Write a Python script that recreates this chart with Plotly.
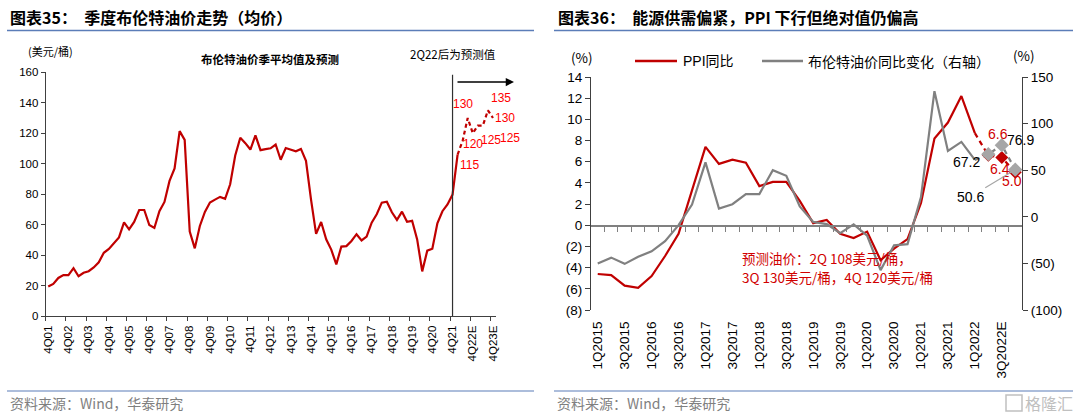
import plotly.graph_objects as go

W, H = 1080, 416
def px(x): return x / W
def py(y): return 1 - y / H

FONT = "Liberation Sans, Arial, Noto Sans CJK SC, sans-serif"
CJK = "Noto Sans CJK SC, Liberation Sans, sans-serif"

# ---------------- Left chart data ----------------
left_tick_labels = ["4Q01", "4Q02", "4Q03", "4Q04", "4Q05", "4Q06", "4Q07", "4Q08",
                    "4Q09", "4Q10", "4Q11", "4Q12", "4Q13", "4Q14", "4Q15", "4Q16",
                    "4Q17", "4Q18", "4Q19", "4Q20", "4Q21", "4Q22E", "4Q23E"]
# quarterly average Brent, 4Q01 .. 1Q22
brent_actual = [19.4,
                21.1, 25.0, 26.9, 26.8,
                31.4, 26.1, 28.4, 29.4,
                31.9, 35.3, 41.5, 44.0,
                47.6, 51.6, 61.5, 56.9,
                61.8, 69.6, 69.6, 59.7,
                57.8, 68.8, 74.9, 88.7,
                96.9, 121.4, 115.6, 55.5,
                44.4, 59.1, 68.3, 74.5,
                76.4, 78.2, 76.9, 86.5,
                105.4, 117.0, 113.5, 109.3,
                118.6, 108.9, 109.6, 110.1,
                112.6, 102.6, 110.3, 109.2,
                108.2, 109.7, 101.9, 76.4,
                53.9, 61.7, 50.4, 43.6,
                33.9, 45.6, 45.9, 49.3,
                53.7, 49.6, 52.1, 61.3,
                66.8, 74.4, 75.0, 68.1,
                63.1, 68.5, 61.9, 62.5,
                50.3, 29.3, 42.9, 44.2,
                60.9, 68.8, 73.2, 79.7,
                106.0]
# forecasts 2Q22 .. 4Q23
brent_forecast = [115, 130, 120, 125, 125, 135, 130]
forecast_labels = ["115", "130", "120", "125", "125", "135", "130"]
forecast_label_shift = [(7, -24), (-5, 14), (0, -11), (13, -14), (27, -12), (13, 12), (12, 0)]
split_label = "4Q21"

# ---------------- Right chart data ----------------
right_tick_labels = ["1Q2015", "3Q2015", "1Q2016", "3Q2016", "1Q2017", "3Q2017", "1Q2018",
                     "3Q2018", "1Q2019", "3Q2019", "1Q2020", "3Q2020", "1Q2021", "3Q2021",
                     "1Q2022", "3Q2022E"]
ppi_yoy = [-4.6, -4.7, -5.7, -5.9, -4.8, -2.9, -0.8, 3.3, 7.4, 5.8, 6.2, 5.9, 3.7, 4.1,
           4.1, 2.3, 0.2, 0.5, -0.8, -1.2, -0.6, -3.3, -2.2, -1.3, 2.1, 8.2, 9.7, 12.2, 8.7]
brent_yoy = [-50.2, -43.8, -50.5, -42.9, -37.1, -26.1, -8.9, 13.1, 58.4, 8.8, 13.5, 24.3,
             24.4, 50.0, 44.0, 11.1, -5.5, -7.9, -17.5, -8.2, -20.3, -57.2, -30.7, -29.3,
             21.1, 134.8, 70.6, 80.3, 61.0]
ppi_fc = [6.6, 6.4, 5.0]
brent_fc = [67.2, 76.9, 50.6]
ppi_fc_labels = ["6.6", "6.4", "5.0"]
brent_fc_labels = ["67.2", "76.9", "50.6"]
left_y_ticks = [-8, -6, -4, -2, 0, 2, 4, 6, 8, 10, 12, 14]
right_y_ticks = [-100, -50, 0, 50, 100, 150]
note_lines = ["预测油价：2Q 108美元/桶，", "3Q 130美元/桶，4Q 120美元/桶"]

RED = "#C00000"
GRAY = "#808080"
AX = "#404040"

fig = go.Figure()

# ---- left traces
xa = list(range(len(brent_actual)))
xf = list(range(len(brent_actual) - 1, len(brent_actual) + len(brent_forecast)))
yf = [brent_actual[-1]] + brent_forecast
fig.add_trace(go.Scatter(x=xa, y=brent_actual, mode="lines", line=dict(color=RED, width=2.2),
                         xaxis="x", yaxis="y", showlegend=False, hoverinfo="skip"))
fig.add_trace(go.Scatter(x=xf, y=yf, mode="lines", line=dict(color=RED, width=2.2, dash="4px,3px"),
                         xaxis="x", yaxis="y", showlegend=False, hoverinfo="skip"))
fig.add_trace(go.Scatter(x=[0], y=[0], mode="markers", marker=dict(opacity=0),
                         xaxis="x2", yaxis="y", showlegend=False, hoverinfo="skip"))

# ---- right traces
n = len(ppi_yoy)
xr = list(range(n))
xfc = list(range(n - 1, n + len(ppi_fc)))
fig.add_trace(go.Scatter(x=xr, y=ppi_yoy, mode="lines", line=dict(color=RED, width=2.2),
                         xaxis="x3", yaxis="y3", showlegend=False, hoverinfo="skip"))
fig.add_trace(go.Scatter(x=xfc, y=[ppi_yoy[-1]] + ppi_fc, mode="lines",
                         line=dict(color=RED, width=2.2, dash="5px,4px"),
                         xaxis="x3", yaxis="y3", showlegend=False, hoverinfo="skip"))
fig.add_trace(go.Scatter(x=xfc[1:], y=ppi_fc, mode="markers",
                         marker=dict(symbol="diamond", size=10, color=RED),
                         xaxis="x3", yaxis="y3", showlegend=False, hoverinfo="skip"))
fig.add_trace(go.Scatter(x=xr, y=brent_yoy, mode="lines", line=dict(color=GRAY, width=2.2),
                         xaxis="x3", yaxis="y4", showlegend=False, hoverinfo="skip"))
fig.add_trace(go.Scatter(x=xfc, y=[brent_yoy[-1]] + brent_fc, mode="lines",
                         line=dict(color=GRAY, width=2.2, dash="5px,4px"),
                         xaxis="x3", yaxis="y4", showlegend=False, hoverinfo="skip"))
fig.add_trace(go.Scatter(x=xfc[1:], y=brent_fc, mode="markers",
                         marker=dict(symbol="diamond", size=11, color="#A6A6A6"),
                         xaxis="x3", yaxis="y4", showlegend=False, hoverinfo="skip"))
fig.add_trace(go.Scatter(x=[0], y=[0], mode="markers", marker=dict(opacity=0),
                         xaxis="x4", yaxis="y3", showlegend=False, hoverinfo="skip"))

n_left = len(brent_actual) + len(brent_forecast)
left_dom = [px(45.7), px(495.5)]
right_dom = [px(591), px(1022)]

def tf(size):
    return dict(size=size, family=FONT, color="black")

fig.update_layout(
    template="none",
    width=W, height=H, margin=dict(l=0, r=0, t=0, b=0, pad=0, autoexpand=False),
    paper_bgcolor="white", plot_bgcolor="white", showlegend=False,
    font=dict(family=FONT, size=12, color="black"),
    xaxis=dict(domain=left_dom, range=[-0.5, n_left - 0.5], anchor="y", automargin=False,
               tickmode="array", tickvals=list(range(0, n_left, 4)), ticktext=left_tick_labels,
               tickangle=-90, ticks="outside", ticklen=4, tickcolor="rgba(0,0,0,0)",
               showline=True, linecolor=AX, linewidth=1, showgrid=False, zeroline=False,
               tickfont=tf(11.5)),
    xaxis2=dict(overlaying="x", domain=left_dom, range=[-0.5, n_left - 0.5], anchor="y",
                automargin=False,
                tickmode="array", tickvals=[i - 0.5 for i in range(0, n_left, 4)],
                ticks="outside", ticklen=4, tickcolor=AX, showticklabels=False,
                showline=False, showgrid=False, zeroline=False),
    yaxis=dict(domain=[py(316), py(72.3)], range=[0, 160], anchor="x", dtick=20, automargin=False,
               ticks="outside", ticklen=4, tickcolor=AX, showline=True,
               linecolor=AX, linewidth=1, showgrid=False, zeroline=False,
               tickfont=tf(11.5)),
    xaxis3=dict(domain=right_dom, range=[-0.5, 31.5], anchor="y3", automargin=False,
                tickmode="array", tickvals=list(range(0, 31, 2)), ticktext=right_tick_labels,
                tickangle=-90, ticks="outside", ticklen=5, tickcolor="rgba(0,0,0,0)",
                showline=False, showgrid=False, zeroline=False,
                tickfont=tf(13.5)),
    xaxis4=dict(overlaying="x3", domain=right_dom, range=[-0.5, 31.5], anchor="free",
                automargin=False,
                position=py(225.3), tickmode="array", tickvals=[i + 0.5 for i in range(31)],
                ticks="outside", ticklen=5, tickcolor=GRAY, showticklabels=False,
                showline=True, linecolor=GRAY, linewidth=1.2, showgrid=False, zeroline=False),
    yaxis3=dict(domain=[py(310), py(77)], range=[-8, 14], anchor="x3", side="left",
                automargin=False,
                tickmode="array", tickvals=left_y_ticks,
                ticktext=[f"({-v})" if v < 0 else str(v) for v in left_y_ticks],
                ticks="outside", ticklen=5, tickcolor=AX, showline=True,
                linecolor=AX, linewidth=1, showgrid=False, zeroline=False,
                tickfont=tf(13.5)),
    yaxis4=dict(overlaying="y3", range=[-100, 150], anchor="x3", side="right",
                automargin=False,
                tickmode="array", tickvals=right_y_ticks,
                ticktext=[f"({-v})" if v < 0 else str(v) for v in right_y_ticks],
                ticks="outside", ticklen=5, tickcolor=AX, showline=True,
                linecolor=AX, linewidth=1, showgrid=False, zeroline=False,
                tickfont=tf(13.5)),
)

shapes = []
ann = []

def text(t, x, y, size, family=CJK, color="black", xanchor="left"):
    ann.append(dict(text=t, x=px(x), y=py(y), xref="paper", yref="paper",
                    xanchor=xanchor, yanchor="middle", showarrow=False,
                    font=dict(size=size, family=family, color=color)))

# title / footer rules
for x0, x1 in [(7, 534), (554, 1073)]:
    shapes.append(dict(type="line", xref="paper", yref="paper", x0=px(x0), x1=px(x1),
                       y0=py(30.5), y1=py(30.5), line=dict(color="#5B7DB8", width=1.5)))
    shapes.append(dict(type="line", xref="paper", yref="paper", x0=px(x0), x1=px(x1),
                       y0=py(391), y1=py(391), line=dict(color="#5B7DB8", width=1.2)))

text("<b>图表35：  季度布伦特油价走势（均价）</b>", 8, 17, 16)
text("<b>图表36：  能源供需偏紧，PPI 下行但绝对值仍偏高</b>", 556, 17, 16)
for xx in [8, 555]:
    text("资料来源：Wind，华泰研究", xx, 403, 14, color="#7F7F7F")
text("格隆汇", 1075, 403, 16, color="#C0C0C0", xanchor="right")
shapes.append(dict(type="rect", xref="paper", yref="paper", x0=px(1006), x1=px(1022),
                   y0=py(411), y1=py(395), line=dict(color="#C0C0C0", width=1.5)))

# left chart texts
text("(美元/桶)", 26, 51, 11)
text("<b>布伦特油价季平均值及预测</b>", 270, 59, 11.5, xanchor="center")
text("2Q22后为预测值", 453, 54, 11.5, xanchor="center")

split_idx = left_tick_labels.index(split_label) * 4
shapes.append(dict(type="line", xref="x", yref="y domain", x0=split_idx, x1=split_idx,
                   y0=0, y1=0.99, line=dict(color="#303030", width=1.2)))
ann.append(dict(text="", x=px(514), y=py(82), xref="paper", yref="paper",
                ax=-58, ay=0, showarrow=True, arrowhead=2, arrowsize=1.1, arrowwidth=1.5,
                arrowcolor="black"))

for i, (lab, (dx, dy)) in enumerate(zip(forecast_labels, forecast_label_shift)):
    ann.append(dict(text=lab, x=xf[i + 1], y=yf[i + 1], xref="x", yref="y",
                    xshift=dx, yshift=dy, showarrow=False, xanchor="center", yanchor="middle",
                    font=dict(size=12, family=FONT, color="#FF0000")))

# right chart texts
text("(%)", 582, 57, 13.5, xanchor="center")
text("(%)", 1024, 55, 13.5, xanchor="center")
shapes.append(dict(type="line", xref="paper", yref="paper", x0=px(635), x1=px(677),
                   y0=py(61), y1=py(61), line=dict(color=RED, width=2.5)))
shapes.append(dict(type="line", xref="paper", yref="paper", x0=px(762), x1=px(803),
                   y0=py(61), y1=py(61), line=dict(color=GRAY, width=2.5)))
text("PPI同比", 681, 61, 14, family=FONT)
text("布伦特油价同比变化（右轴）", 806, 61, 14)
for k, line in enumerate(note_lines):
    text(line, 740, 258 + 19 * k, 13.5, color="#D00000")

ppi_shift = [(10, 21), (-2, -12), (-3, -9)]
for i, (lab, (dx, dy)) in enumerate(zip(ppi_fc_labels, ppi_shift)):
    ann.append(dict(text=lab, x=xfc[i + 1], y=ppi_fc[i], xref="x3", yref="y3",
                    xshift=dx, yshift=dy, showarrow=False, xanchor="center", yanchor="middle",
                    font=dict(size=14, family=FONT, color="#D00000")))
brent_shift = [(-22, -8), (19, 5)]
for i in range(2):
    dx, dy = brent_shift[i]
    ann.append(dict(text=brent_fc_labels[i], x=xfc[i + 1], y=brent_fc[i], xref="x3", yref="y4",
                    xshift=dx, yshift=dy, showarrow=False, xanchor="center", yanchor="middle",
                    font=dict(size=14, family=FONT, color="black")))
ann.append(dict(text=brent_fc_labels[2], x=xfc[3], y=brent_fc[2], xref="x3", yref="y4",
                ax=-45, ay=27, showarrow=True, arrowhead=0, arrowwidth=1.2, arrowcolor="#A6A6A6",
                standoff=4, font=dict(size=14, family=FONT, color="black")))

fig.update_layout(shapes=shapes, annotations=ann)
fig.write_html("out.html", config={"displayModeBar": False, "staticPlot": True},
               post_script="document.body.style.margin='0';document.body.style.overflow='hidden';")
